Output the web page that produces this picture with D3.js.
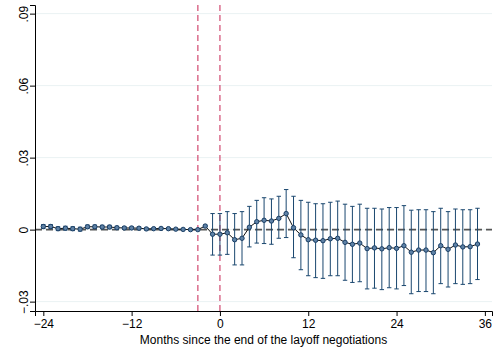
<!DOCTYPE html>
<html>
<head>
<meta charset="utf-8">
<script src="https://cdn.jsdelivr.net/npm/d3@7"></script>
<style>
  body { margin: 0; background: #fff; }
  svg { display: block; font-family: "Liberation Sans", Arial, sans-serif; }
</style>
</head>
<body>
<div id="chart"></div>
<script>
// months relative to the end of the negotiations
const months = d3.range(-24, 36);

// point estimates
const coef = [
  0.0013, 0.0013, 0.0004, 0.0006, 0.0004, 0.0002, 0.0012, 0.0012, 0.0011, 0.0011,
  0.0008, 0.0007, 0.0007, 0.0006, 0.0003, 0.0004, 0.0005, 0.0004, 0.0002, 0.0001,
  0.0000, 0.0000, 0.0015, -0.0019, -0.0019, -0.0013, -0.0042, -0.0036, 0.0010, 0.0033,
  0.0039, 0.0036, 0.0047, 0.0067, 0.0008, -0.0022, -0.0042, -0.0044, -0.0046, -0.0038,
  -0.0036, -0.0053, -0.0061, -0.0056, -0.0079, -0.0076, -0.0080, -0.0075, -0.0078, -0.0067,
  -0.0094, -0.0085, -0.0085, -0.0096, -0.0067, -0.0082, -0.0064, -0.0072, -0.0071, -0.0060
];

// upper and lower confidence bounds
const ciHigh = [
  0.0021, 0.0021, 0.0012, 0.0014, 0.0012, 0.0010, 0.0019, 0.0019, 0.0018, 0.0018,
  0.0014, 0.0013, 0.0012, 0.0011, 0.0007, 0.0007, 0.0008, 0.0006, 0.0003, 0.0002,
  0.0000, 0.0000, 0.0019, 0.0067, 0.0067, 0.0075, 0.0067, 0.0075, 0.0097, 0.0122,
  0.0133, 0.0128, 0.0139, 0.0167, 0.0139, 0.0122, 0.0114, 0.0108, 0.0108, 0.0114,
  0.0119, 0.0106, 0.0097, 0.0106, 0.0089, 0.0089, 0.0086, 0.0092, 0.0092, 0.0100,
  0.0081, 0.0083, 0.0083, 0.0075, 0.0089, 0.0075, 0.0086, 0.0083, 0.0083, 0.0089
];
const ciLow = [
  0.0005, 0.0005, -0.0004, -0.0002, -0.0004, -0.0006, 0.0005, 0.0005, 0.0004, 0.0004,
  0.0002, 0.0001, 0.0002, 0.0001, -0.0001, 0.0001, 0.0002, 0.0002, 0.0001, 0.0000,
  0.0000, 0.0000, 0.0011, -0.0106, -0.0106, -0.0103, -0.0147, -0.0147, -0.0072, -0.0056,
  -0.0058, -0.0061, -0.0036, -0.0033, -0.0117, -0.0167, -0.0192, -0.0200, -0.0203, -0.0192,
  -0.0192, -0.0211, -0.0220, -0.0217, -0.0247, -0.0244, -0.0250, -0.0242, -0.0247, -0.0233,
  -0.0267, -0.0258, -0.0258, -0.0267, -0.0225, -0.0239, -0.0225, -0.0228, -0.0225, -0.0208
];

const xTicks = [-24, -12, 0, 12, 24, 36];
const yTicks = [-0.03, 0, 0.03, 0.06, 0.09];
const eventLines = [-3, 0];

const data = months.map((m, i) => ({month: m, b: coef[i], lo: ciLow[i], hi: ciHigh[i]}));

let width = 495, height = 350;
let plot = {left: 35, right: 492, top: 5, bottom: 311};

let svg = d3.select("#chart")
  .append("svg")
  .attr("width", width)
  .attr("height", height);

let x = d3.scaleLinear()
  .domain([-25.13, 36.97])
  .range([plot.left, plot.right]);

let y = d3.scaleLinear()
  .domain([-0.0339, 0.0936])
  .range([plot.bottom, plot.top]);

// light grid lines
svg.append("g")
  .selectAll("line")
  .data(yTicks)
  .enter()
  .append("line")
  .attr("x1", plot.left)
  .attr("x2", plot.right)
  .attr("y1", d => y(d))
  .attr("y2", d => y(d))
  .attr("stroke", "#eaf2f3")
  .attr("stroke-width", 1);

// dashed reference line at zero
svg.append("line")
  .attr("x1", plot.left)
  .attr("x2", plot.right)
  .attr("y1", y(0))
  .attr("y2", y(0))
  .attr("stroke", "#555")
  .attr("stroke-width", 1.8)
  .attr("stroke-dasharray", "7,4");

// vertical event lines
svg.append("g")
  .selectAll("line")
  .data(eventLines)
  .enter()
  .append("line")
  .attr("x1", d => x(d))
  .attr("x2", d => x(d))
  .attr("y1", plot.top)
  .attr("y2", plot.bottom)
  .attr("stroke", "#d5577b")
  .attr("stroke-width", 1.3)
  .attr("stroke-dasharray", "6,4");

// confidence intervals
const ci = svg.append("g")
  .attr("stroke", "#1a476f")
  .attr("stroke-width", 1)
  .selectAll("g")
  .data(data.filter(d => d.hi - d.lo > 0))
  .enter()
  .append("g");

ci.append("line")
  .attr("x1", d => x(d.month))
  .attr("x2", d => x(d.month))
  .attr("y1", d => y(d.hi))
  .attr("y2", d => y(d.lo));

ci.append("line")
  .attr("x1", d => x(d.month) - 2.2)
  .attr("x2", d => x(d.month) + 2.2)
  .attr("y1", d => y(d.hi))
  .attr("y2", d => y(d.hi));

ci.append("line")
  .attr("x1", d => x(d.month) - 2.2)
  .attr("x2", d => x(d.month) + 2.2)
  .attr("y1", d => y(d.lo))
  .attr("y2", d => y(d.lo));

// connecting line
let line = d3.line()
  .x(d => x(d.month))
  .y(d => y(d.b));

svg.append("path")
  .datum(data)
  .attr("d", line)
  .attr("fill", "none")
  .attr("stroke", "#111")
  .attr("stroke-width", 1);

// markers
svg.append("g")
  .selectAll("circle")
  .data(data)
  .enter()
  .append("circle")
  .attr("cx", d => x(d.month))
  .attr("cy", d => y(d.b))
  .attr("r", 2.2)
  .attr("fill", "#5f82a6")
  .attr("stroke", "#1a3f66")
  .attr("stroke-width", 1);

// axes
let xAxis = svg.append("g")
  .attr("transform", `translate(0,${plot.bottom})`)
  .call(d3.axisBottom(x).tickValues(xTicks).tickFormat(d3.format("d")).tickSizeOuter(0).tickSize(5));

let yAxis = svg.append("g")
  .attr("transform", `translate(${plot.left},0)`)
  .call(d3.axisLeft(y).tickValues(yTicks).tickSizeOuter(0).tickSize(5)
    .tickFormat(d => d === 0 ? "0" : d3.format(".2f")(d).replace("0.", ".")));

[xAxis, yAxis].forEach(a => {
  a.select(".domain").attr("stroke", "#000");
  a.selectAll(".tick line").attr("stroke", "#000");
  a.selectAll("text")
    .attr("fill", "#000")
    .style("font-size", "12px")
    .style("font-family", "'Liberation Sans', Arial, sans-serif");
});

xAxis.selectAll("text").attr("y", 8);

yAxis.selectAll("text")
  .attr("transform", "rotate(-90)")
  .attr("x", 0)
  .attr("y", -7)
  .attr("dy", "0")
  .style("text-anchor", "middle");

// x-axis label
svg.append("text")
  .attr("x", (plot.left + plot.right) / 2)
  .attr("y", 344)
  .attr("text-anchor", "middle")
  .style("font-size", "12px")
  .text("Months since the end of the layoff negotiations");
</script>
</body>
</html>
